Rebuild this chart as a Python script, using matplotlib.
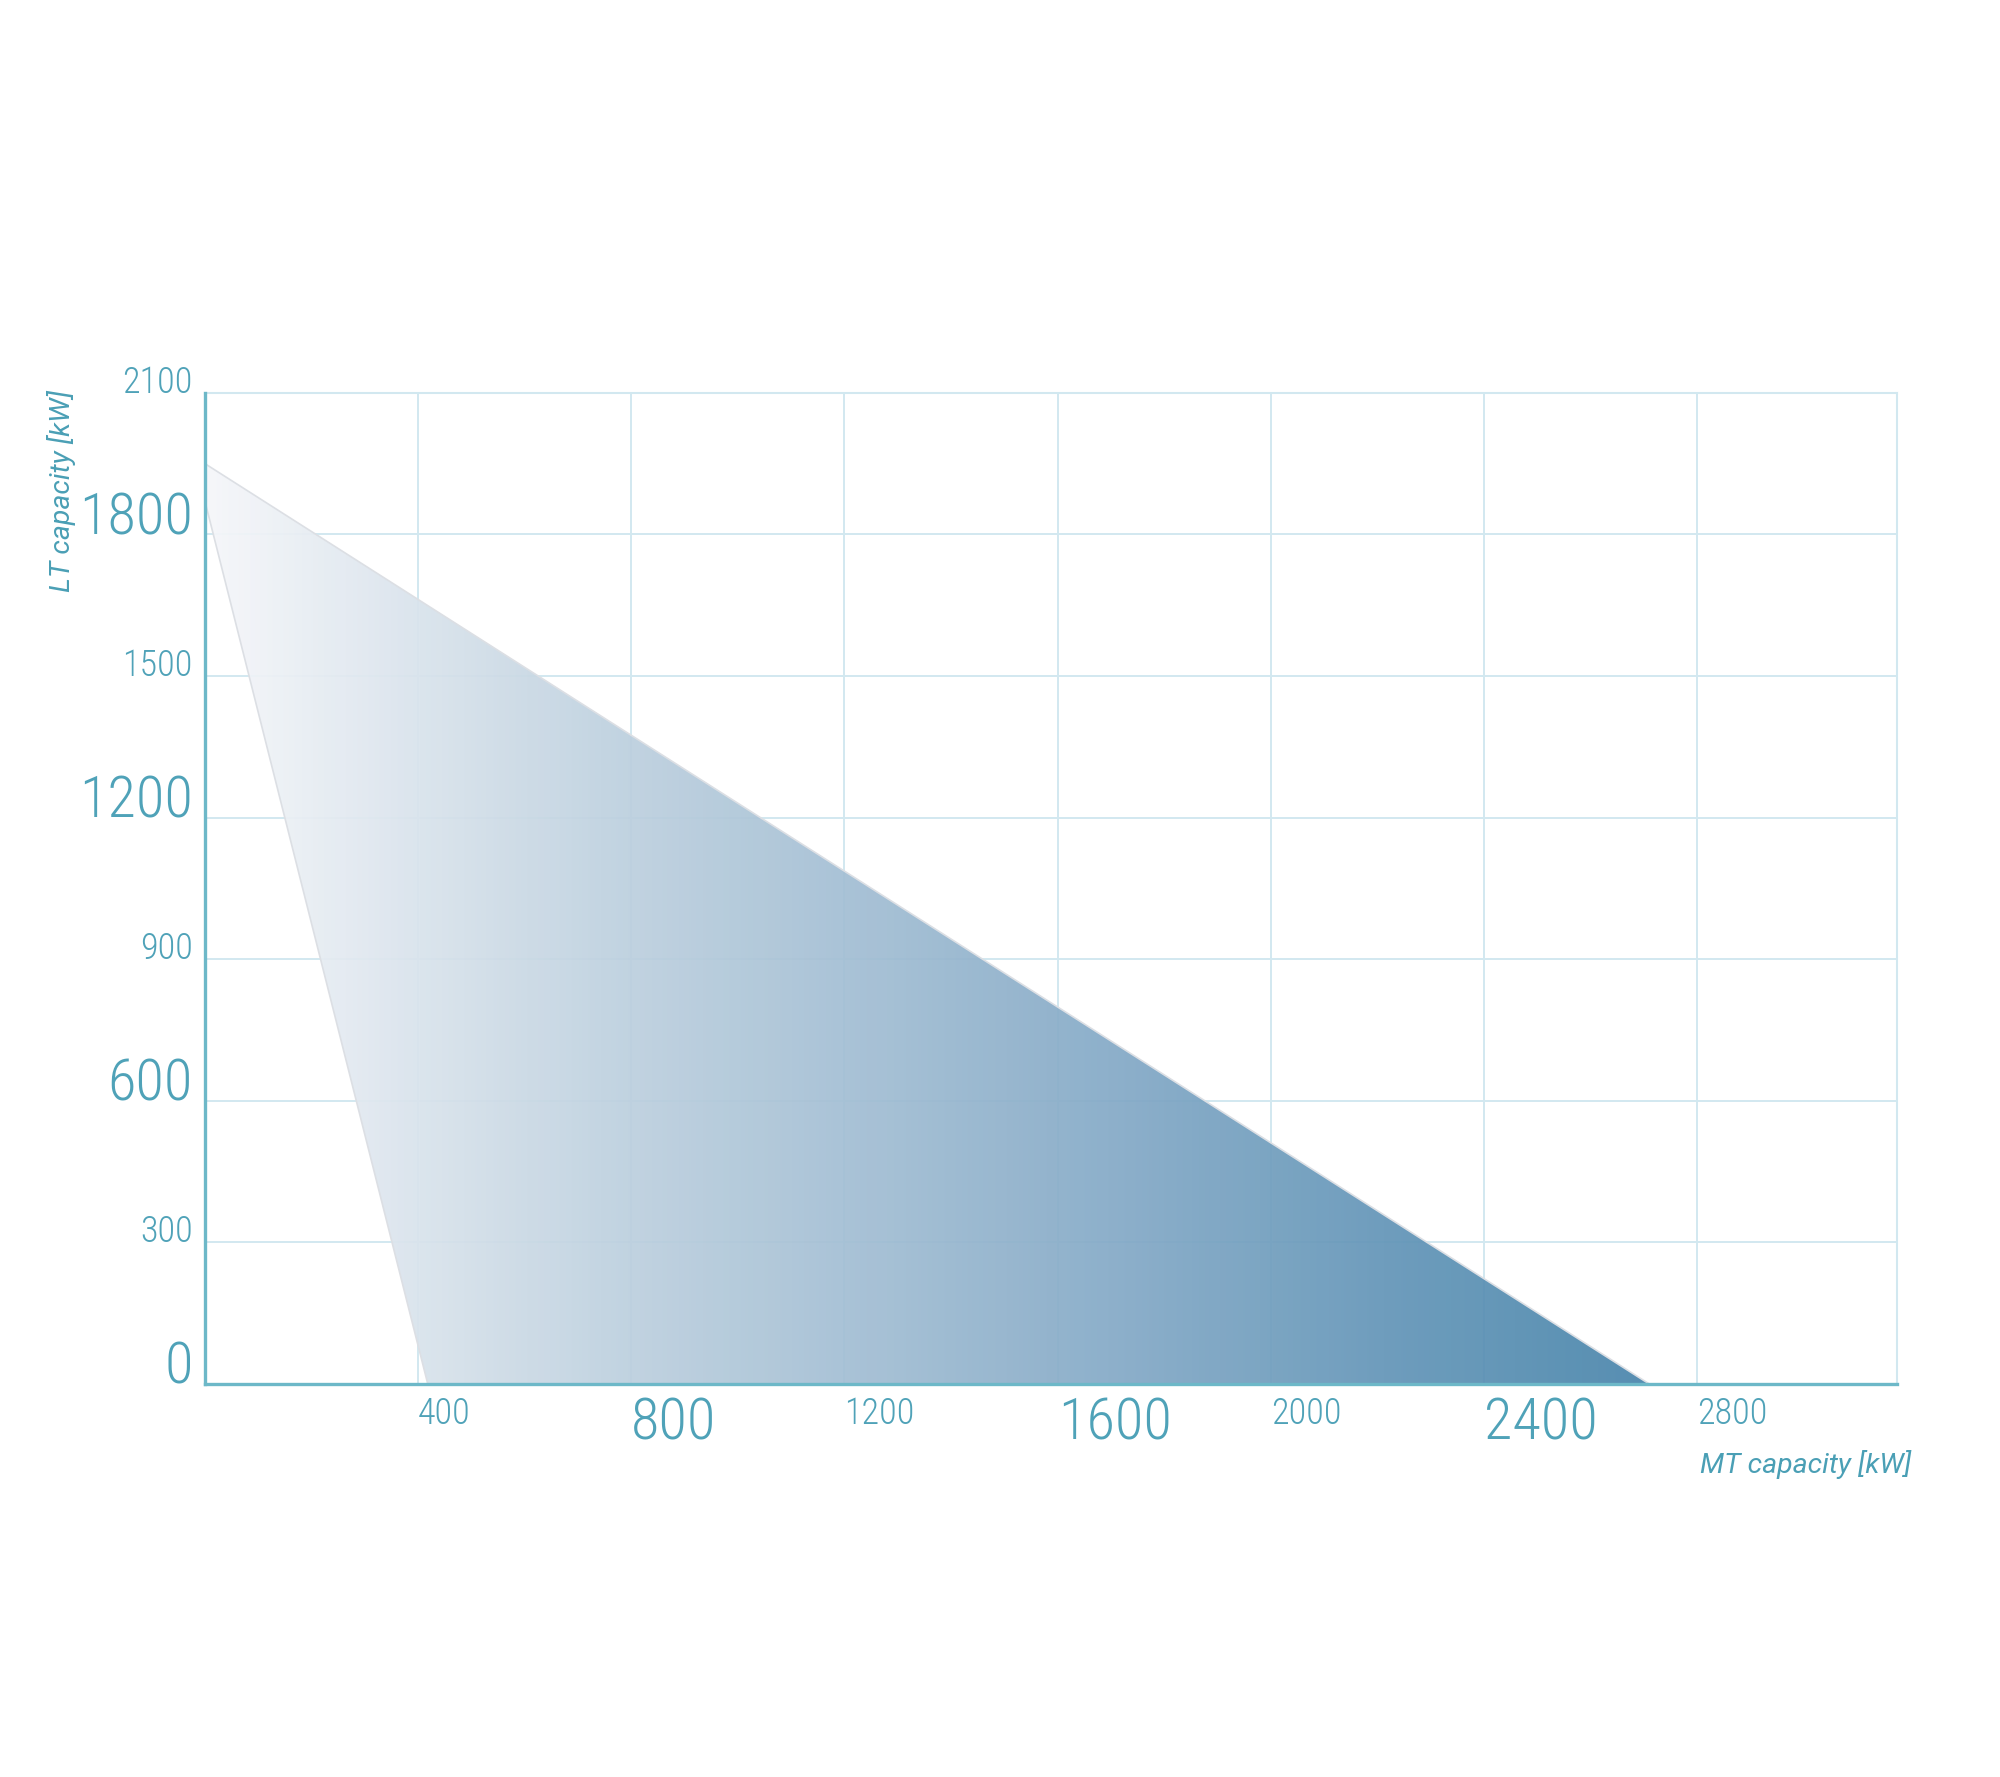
import numpy as np
import matplotlib
matplotlib.use("Agg")
import matplotlib.pyplot as plt
from matplotlib.patches import Polygon
from matplotlib.colors import LinearSegmentedColormap
from matplotlib import font_manager as fm

# ---- data ----
mt_vertices = [0, 2710, 418, 0]          # MT capacity [kW] of the region's corners
lt_vertices = [1950, 0, 0, 1870]         # LT capacity [kW] of the region's corners
x_ticks = [400, 800, 1200, 1600, 2000, 2400, 2800]
x_tick_labels = ["400", "800", "1200", "1600", "2000", "2400", "2800"]
y_ticks = [0, 300, 600, 900, 1200, 1500, 1800, 2100]
y_tick_labels = ["0", "300", "600", "900", "1200", "1500", "1800", "2100"]
x_label = "MT capacity [kW]"
y_label = "LT capacity [kW]"
x_max = 3175
y_max = 2100

# ---- fonts ----
def pick_font():
    cands = [
        dict(family="Roboto Condensed", weight="light", stretch="condensed"),
        dict(family="Roboto", weight="light", stretch="condensed"),
        dict(family="Liberation Sans Narrow", weight="normal", stretch="condensed"),
        dict(family="DejaVu Sans", weight="light", stretch="condensed"),
    ]
    for c in cands:
        try:
            p = fm.findfont(fm.FontProperties(**c), fallback_to_default=False)
            name = p.lower()
            if "condensed" in name or "narrow" in name:
                return fm.FontProperties(fname=p)
        except Exception:
            pass
    return fm.FontProperties(family="DejaVu Sans")

tick_fp = pick_font()

TEXT = "#4fa2b8"
SPINE = "#6db8c8"
GRID = "#d2e8f0"

fig = plt.figure(figsize=(20, 17.77), dpi=100)
ax = fig.add_axes([0.1025, 0.2212, 0.846, 0.5577])
ax.set_xlim(0, x_max)
ax.set_ylim(0, y_max)

# grid
ax.set_xticks(x_ticks)
ax.set_yticks(y_ticks)
ax.grid(True, color=GRID, lw=1.4, zorder=0)
ax.set_axisbelow(True)

# gradient region
cmap = LinearSegmentedColormap.from_list(
    "grad",
    [(0.0, "#f6f7fa"), (0.274, "#c0d2e0"), (0.626, "#85aac7"),
     (0.817, "#6496b8"), (1.0, "#4a86ac")])
poly = Polygon(np.column_stack([mt_vertices, lt_vertices]), closed=True,
               facecolor="none", edgecolor="#dcdfe4", lw=1.2, zorder=3)
ax.add_patch(poly)
grad = np.linspace(0, 1, 512)[None, :]
im = ax.imshow(grad, extent=[0, max(mt_vertices), 0, y_max], cmap=cmap,
               aspect="auto", origin="lower", zorder=2, alpha=0.93,
               interpolation="bilinear")
im.set_clip_path(poly)

# spines
for s in ["top", "right"]:
    ax.spines[s].set_color(GRID)
    ax.spines[s].set_linewidth(1.5)
for s in ["left", "bottom"]:
    ax.spines[s].set_color(SPINE)
    ax.spines[s].set_linewidth(2.4)
    ax.spines[s].set_zorder(5)

ax.tick_params(length=0)
ax.set_xticklabels(x_tick_labels)
ax.set_yticklabels(y_tick_labels)
ax.tick_params(axis="x", pad=9)
ax.tick_params(axis="y", pad=9)
for i, lab in enumerate(ax.get_xticklabels()):
    lab.set_fontproperties(tick_fp)
    lab.set_fontsize(42 if i % 2 == 1 else 26)
    lab.set_color(TEXT)
    lab.set_ha("left")
    lab.set_va("top")
for i, lab in enumerate(ax.get_yticklabels()):
    lab.set_fontproperties(tick_fp)
    lab.set_fontsize(42 if i % 2 == 0 else 26)
    lab.set_color(TEXT)
    lab.set_va("baseline")

fig.text(0.85, 1 - 1473 / 1777, x_label, color="#4a9fb5", fontsize=20.5,
         style="italic", family=["Roboto", "DejaVu Sans"], ha="left", va="baseline")
fig.text(62 / 2000, 1 - 390 / 1777, y_label, color="#4a9fb5", fontsize=20.5,
         style="italic", family=["Roboto", "DejaVu Sans"], rotation=90,
         ha="center", va="top")

fig.savefig("out.png", dpi=100, facecolor="white")
